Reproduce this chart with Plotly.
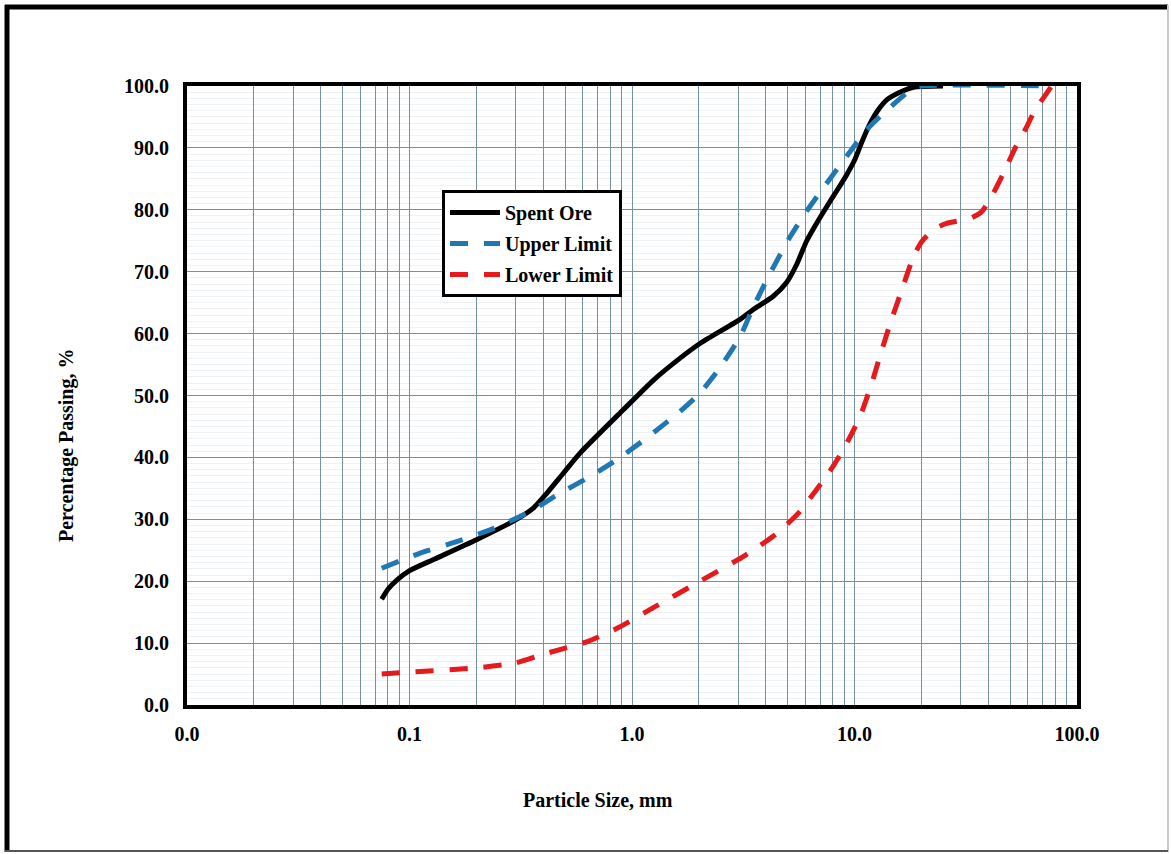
import plotly.graph_objects as go

# ---------------- data ----------------
size_spent = [0.075, 0.08, 0.088, 0.1, 0.13, 0.2, 0.3, 0.36, 0.414, 0.49, 0.584, 0.914, 1.25,
              1.64, 2.02, 3.06, 3.51, 4.3, 4.96, 5.5, 6.1, 6.8, 7.5, 8.3, 9.2, 10.0, 10.8,
              11.7, 12.7, 14.0, 16.0, 18.4, 25.0]
pass_spent = [17.1, 18.7, 20.2, 21.7, 23.6, 26.7, 29.9, 31.8, 34.2, 37.4, 40.7, 47.7, 52.5,
              56.0, 58.4, 62.3, 63.9, 66.0, 68.3, 71.2, 75.0, 78.0, 80.5, 83.0, 85.6, 88.0, 91.0,
              93.8, 96.0, 97.8, 99.0, 99.8, 100.0]

size_upper = [0.075, 0.111, 0.163, 0.238, 0.35, 0.459, 0.647, 0.853, 1.16, 1.64, 2.02, 2.44,
              3.06, 3.51, 4.17, 5.13, 6.07, 7.5, 9.2, 11.4, 13.5, 18.0, 20.0, 75.0]
pass_upper = [22.1, 24.5, 26.4, 28.5, 31.3, 33.9, 36.9, 39.6, 43.1, 47.4, 50.4, 54.1,
              59.5, 64.3, 69.7, 75.6, 79.7, 84.3, 88.6, 93.0, 95.6, 99.4, 100.0, 100.0]

size_lower = [0.075, 0.1, 0.2, 0.3, 0.4, 0.625, 0.88, 1.23, 2.0, 3.2, 4.4, 5.6, 6.5, 7.5,
              8.45, 9.2, 10.05, 10.8, 11.5, 12.15, 13.0, 14.4, 16.3, 18.4, 20.0, 22.6, 25.9,
              33.0, 37.3, 42.1, 46.7, 52.6, 59.4, 64.7, 73.0, 76.9]
pass_lower = [5.0, 5.3, 6.0, 6.8, 8.2, 10.2, 12.6, 15.6, 19.9, 24.1, 27.5, 31.0, 34.0, 37.0,
              39.9, 42.2, 44.9, 47.4, 50.2, 52.8, 56.3, 61.4, 67.0, 72.4, 74.8, 76.8, 77.8,
              78.6, 79.7, 82.7, 85.9, 89.9, 93.4, 96.1, 98.8, 100.0]

series_names = ["Spent Ore", "Upper Limit", "Lower Limit"]

x_grid_vals = [m * 10 ** e for e in range(-2, 2) for m in range(1, 10)] + [100]
x_tick_labels = {0.01: "0.0", 0.1: "0.1", 1: "1.0", 10: "10.0", 100: "100.0"}
y_tick_vals = list(range(0, 101, 10))
y_tick_labels = [f"{v:.1f}" for v in y_tick_vals]

x_title = "Particle Size, mm"
y_title = "Percentage Passing, %"

# ---------------- figure ----------------
FONT = "Liberation Serif"
W, H = 1171, 854
L, R, T, B = 187, 94, 86, 149

fig = go.Figure()
fig.add_trace(go.Scatter(x=size_spent, y=pass_spent, mode="lines", name=series_names[0],
                         legendgroup="a",
                         line=dict(color="black", width=5, shape="spline", smoothing=0.6)))
fig.add_trace(go.Scatter(x=size_upper, y=pass_upper, mode="lines", name=series_names[1],
                         legendgroup="b",
                         line=dict(color="#1f77b4", width=5, dash="18px,16px",
                                   shape="spline", smoothing=0.6)))
fig.add_trace(go.Scatter(x=size_lower, y=pass_lower, mode="lines", name=series_names[2],
                         legendgroup="c",
                         line=dict(color="#e41a1c", width=5, dash="18px,16px",
                                   shape="spline", smoothing=0.6)))

grid_col = "#7391a4"
fig.update_xaxes(
    type="log", range=[-2, 2],
    tickvals=x_grid_vals,
    ticktext=[x_tick_labels.get(round(v, 6), "") for v in x_grid_vals],
    showgrid=True, gridcolor=grid_col, gridwidth=1,
    showline=True, linecolor="black", linewidth=4, mirror=True,
    ticks="", ticklabelstandoff=8,
    tickfont=dict(family=FONT, size=20, color="black", weight="bold"),
    zeroline=False,
)
fig.update_yaxes(
    range=[0, 100],
    tickvals=y_tick_vals, ticktext=y_tick_labels,
    showgrid=True, gridcolor=grid_col, gridwidth=1,
    minor=dict(dtick=1, showgrid=True, gridcolor="#eef2f5", gridwidth=1),
    showline=True, linecolor="black", linewidth=4, mirror=True,
    ticks="", ticklabelstandoff=10,
    tickfont=dict(family=FONT, size=20, color="black", weight="bold"),
    zeroline=False,
)


def px_x(p):
    return (p - L) / (W - L - R)


def px_y(p):
    return (H - B - p) / (H - T - B)


shapes = [
    dict(type="line", xref="paper", yref="paper", x0=px_x(7), x1=px_x(7), y0=px_y(5), y1=px_y(852),
         line=dict(color="black", width=5)),
    dict(type="line", xref="paper", yref="paper", x0=px_x(5), x1=px_x(1168), y0=px_y(7), y1=px_y(7),
         line=dict(color="black", width=5)),
    dict(type="line", xref="paper", yref="paper", x0=px_x(1168), x1=px_x(1168), y0=px_y(5), y1=px_y(852),
         line=dict(color="#c8c8c8", width=2)),
    dict(type="line", xref="paper", yref="paper", x0=px_x(5), x1=px_x(1168), y0=px_y(851), y1=px_y(851),
         line=dict(color="#555555", width=2)),
]

annotations = [
    dict(text=f"<b>{x_title}</b>", xref="paper", yref="paper", x=px_x(598), y=px_y(800),
         xanchor="center", yanchor="middle", showarrow=False,
         font=dict(family=FONT, size=20, color="black")),
    dict(text=f"<b>{y_title}</b>", xref="paper", yref="paper", x=px_x(66), y=px_y(445),
         xanchor="center", yanchor="middle", showarrow=False, textangle=-90,
         font=dict(family=FONT, size=20, color="black")),
]

fig.update_layout(
    width=W, height=H,
    margin=dict(l=L, r=R, t=T, b=B),
    paper_bgcolor="white", plot_bgcolor="white",
    shapes=shapes,
    annotations=annotations,
    showlegend=True,
    legend=dict(
        x=px_x(442), y=px_y(190), xanchor="left", yanchor="top",
        bgcolor="white", bordercolor="black", borderwidth=3,
        font=dict(family=FONT, size=20, color="black", weight="bold"),
        itemwidth=50, tracegroupgap=2,
    ),
)

fig.write_html("out.html")
